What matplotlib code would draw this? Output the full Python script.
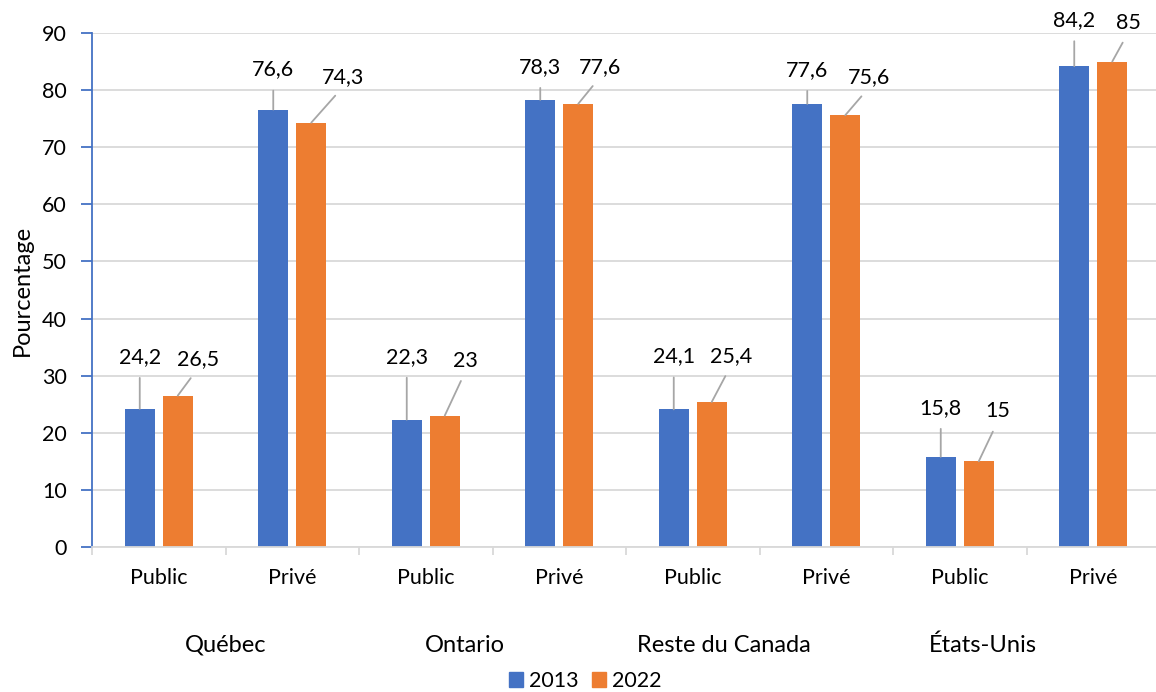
import matplotlib
matplotlib.use('Agg')
import matplotlib.pyplot as plt
from matplotlib.patches import Patch
from matplotlib.transforms import blended_transform_factory

# ---- data ----
regions = ['Québec', 'Ontario', 'Reste du Canada', 'États-Unis']
sectors = ['Public', 'Privé']
years = ['2013', '2022']
values_2013 = [24.2, 76.6, 22.3, 78.3, 24.1, 77.6, 15.8, 84.2]
values_2022 = [26.5, 74.3, 23.0, 77.6, 25.4, 75.6, 15.0, 85.0]
yticks = [0, 10, 20, 30, 40, 50, 60, 70, 80, 90]
ylabel = 'Pourcentage'

# ---- layout ----
lab13_dy = [52, 40, 63, 33, 53, 34, 49, 46]          # label offsets, pixels
lab22_dx = [20, 32, 21, 22, 19, 24, 19, 16]
lab22_dy = [37, 46, 55, 37, 46, 38, 50, 39]
region_pos = [1.0, 2.79, 4.73, 6.67]                  # region label centres, x units

BLUE = '#4472C4'
ORANGE = '#ED7D31'
GRID = '#D9D9D9'
LEADER = '#A6A6A6'

plt.rcParams['font.family'] = ['Lato', 'DejaVu Sans']

W, H = 1156, 692
fig = plt.figure(figsize=(W / 100, H / 100), dpi=100)
ax = fig.add_axes([92 / W, 145 / H, 1068 / W, 514 / H])

n = len(values_2013)
centers = [i + 0.5 for i in range(n)]
bw = 0.2247
off = 0.1423
x13 = [c - off for c in centers]
x22 = [c + off for c in centers]
ax.bar(x13, values_2013, width=bw, color=BLUE, zorder=2)
ax.bar(x22, values_2022, width=bw, color=ORANGE, zorder=2)

def fmt(v):
    return f"{v:g}".replace('.', ',')

arrow = dict(arrowstyle='-', color=LEADER, lw=1.3, shrinkA=6, shrinkB=0, relpos=(0.5, 0))
for i in range(n):
    ax.annotate(fmt(values_2013[i]), xy=(x13[i], values_2013[i]),
                xytext=(0, lab13_dy[i]), textcoords='offset pixels',
                ha='center', va='center', fontsize=15.5, arrowprops=arrow, zorder=3)
    ax.annotate(fmt(values_2022[i]), xy=(x22[i], values_2022[i]),
                xytext=(lab22_dx[i], lab22_dy[i]), textcoords='offset pixels',
                ha='center', va='center', fontsize=15.5, arrowprops=arrow, zorder=3)

ax.set_xlim(0, n)
ax.set_ylim(0, 90)
ax.set_yticks(yticks)
ax.set_xticks(centers)
ax.set_xticklabels([sectors[i % 2] for i in range(n)])
ax.set_xticks(list(range(n + 1)), minor=True)
ax.tick_params(axis='x', which='major', length=0, labelsize=15.5, pad=15)
ax.tick_params(axis='x', which='minor', length=6, width=1.3, color=GRID)
ax.tick_params(axis='y', length=8, width=1.3, color=BLUE, labelsize=15.5, pad=10)

for s in ['top', 'right']:
    ax.spines[s].set_visible(False)
ax.spines['left'].set_color(BLUE)
ax.spines['left'].set_linewidth(1.3)
ax.spines['bottom'].set_color(GRID)
ax.spines['bottom'].set_linewidth(1.3)
ax.yaxis.grid(True, color=GRID, lw=1.3)
ax.set_axisbelow(True)

fig.text(22 / W, 1 - 290 / H, ylabel, rotation=90, ha='center', va='center', fontsize=17)

tr = blended_transform_factory(ax.transData, ax.transAxes)
for r, xp in zip(regions, region_pos):
    ax.text(xp, (547 - 645) / 514, r, transform=tr, ha='center', va='center', fontsize=17)

handles = [Patch(color=BLUE, label=years[0]), Patch(color=ORANGE, label=years[1])]
fig.legend(handles=handles, loc='center', bbox_to_anchor=(585 / W, 1 - 681 / H), ncol=2,
           frameon=False, fontsize=15.5, handlelength=0.65, handleheight=0.65,
           handletextpad=0.3, columnspacing=0.6)

fig.savefig('out.png', dpi=100)
